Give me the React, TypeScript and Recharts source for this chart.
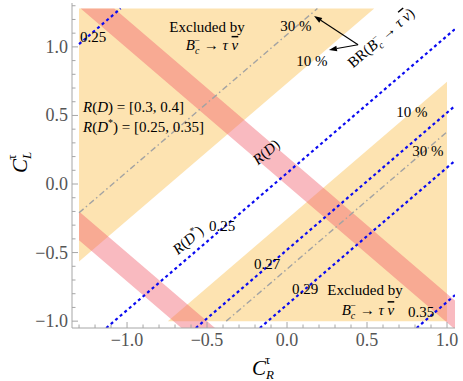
import React from 'react';
import {
  ComposedChart,
  Area,
  Line,
  XAxis,
  YAxis,
  ReferenceDot,
  ReferenceLine
} from 'recharts';

// plot window (C_R on x, C_L on y)
const xDomain: [number, number] = [-1.344, 1.05];
const yDomain: [number, number] = [-1.05, 1.32];
const xTicks = [-1.3, -1.2, -1.1, -1.0, -0.9, -0.8, -0.7, -0.6, -0.5, -0.4, -0.3, -0.2, -0.1, 0.0, 0.1, 0.2, 0.3, 0.4, 0.5, 0.6, 0.7, 0.8, 0.9, 1.0];
const yTicks = [-1.0, -0.9, -0.8, -0.7, -0.6, -0.5, -0.4, -0.3, -0.2, -0.1, 0.0, 0.1, 0.2, 0.3, 0.4, 0.5, 0.6, 0.7, 0.8, 0.9, 1.0, 1.1, 1.2, 1.3];

// scanned ranges: [xmin, xmax, ymin, ymax]
const brBox = [-1.3, 1.0, -1.0, 1.28];
const contourBox = [-1.3, 1.05, -1.05, 1.28];

// BR(Bc -> tau nu) contours, lines C_L - C_R = const
const br10Upper = 0.735;
const br10Lower = -0.255;
const br30Lines = [1.09, -0.62];

// R(D) in [0.3, 0.4]: bands of C_L + C_R
const rdBandLo = [-0.01, -1.71];
const rdBandHi = [0.2, -1.5];

// R(D*) contours, lines C_L - C_R = const
const rdsLevels = ['0.25', '0.25', '0.27', '0.29', '0.35'];
const rdsOffsets = [2.32, 0.08, -0.48, -0.88, -1.86];

const serif = '"Liberation Serif", "Times New Roman", serif';
const frameColor = '#a6a6a6';
const labelColor = '#555';

const isMajor = (v: number) => Math.abs(v * 2 - Math.round(v * 2)) < 1e-6;
const fmt = (v: number) => (v < 0 ? '\u2212' : '') + Math.abs(v).toFixed(1);

// region between y = m x + a and y = m x + b, clipped to box
function bandPoints(m: number, a: number, b: number, box: number[]) {
  const [x0, x1, y0, y1] = box;
  const xs = [x0, x1];
  for (const c of [a, b]) {
    for (const yy of [y0, y1]) {
      const xx = (yy - c) / m;
      if (xx > x0 && xx < x1) xs.push(xx);
    }
  }
  xs.sort((p, q) => p - q);
  const clamp = (v: number) => Math.min(y1, Math.max(y0, v));
  return xs.map(x => ({ x, range: [clamp(m * x + a), clamp(m * x + b)] }));
}

// line y = m x + c clipped to box
function clipLine(m: number, c: number, box: number[]) {
  const [x0, x1, y0, y1] = box;
  const pts: { x: number; y: number }[] = [];
  for (const x of [x0, x1]) {
    const y = m * x + c;
    if (y >= y0 - 1e-9 && y <= y1 + 1e-9) pts.push({ x, y });
  }
  for (const y of [y0, y1]) {
    const x = (y - c) / m;
    if (x >= x0 - 1e-9 && x <= x1 + 1e-9) pts.push({ x, y });
  }
  pts.sort((p, q) => p.x - q.x);
  return [pts[0], pts[pts.length - 1]];
}

const BottomTick = (props: any) => {
  const { x, y, payload } = props;
  const v = payload.value;
  const major = isMajor(v);
  return (
    <g>
      <line x1={x} x2={x} y1={y} y2={y - (major ? 6 : 3.5)} stroke={frameColor} />
      {major && (
        <text x={x} y={y + 18} textAnchor="middle" fontSize={18} fontFamily={serif} fill={labelColor}>
          {fmt(v)}
        </text>
      )}
    </g>
  );
};

const TopTick = (props: any) => {
  const { x, y, payload } = props;
  const major = isMajor(payload.value);
  return <line x1={x} x2={x} y1={y} y2={y + (major ? 6 : 3.5)} stroke={frameColor} />;
};

const LeftTick = (props: any) => {
  const { x, y, payload } = props;
  const v = payload.value;
  const major = isMajor(v);
  return (
    <g>
      <line x1={x} x2={x + (major ? 6 : 3.5)} y1={y} y2={y} stroke={frameColor} />
      {major && (
        <text x={x - 4} y={y + 6} textAnchor="end" fontSize={18} fontFamily={serif} fill={labelColor}>
          {fmt(v)}
        </text>
      )}
    </g>
  );
};

const RightTick = (props: any) => {
  const { x, y, payload } = props;
  const major = isMajor(payload.value);
  return <line x1={x} x2={x - (major ? 6 : 3.5)} y1={y} y2={y} stroke={frameColor} />;
};

const arrowShape = (p: any) => {
  const { x1, y1, x2, y2 } = p;
  const ang = Math.atan2(y2 - y1, x2 - x1);
  const len = 8;
  const half = 2.8;
  const bx = x2 - len * Math.cos(ang);
  const by = y2 - len * Math.sin(ang);
  const px = -Math.sin(ang) * half;
  const py = Math.cos(ang) * half;
  return (
    <g>
      <line x1={x1} y1={y1} x2={bx} y2={by} stroke="#000" strokeWidth={1.1} />
      <polygon points={`${x2},${y2} ${bx + px},${by + py} ${bx - px},${by - py}`} fill="#000" />
    </g>
  );
};

const label = (
  key: string,
  x: number,
  y: number,
  content: React.ReactNode,
  opts: { anchor?: string; angle?: number; size?: number; dy?: number } = {}
) => (
  <ReferenceDot
    key={key}
    x={x}
    y={y}
    r={0}
    ifOverflow="visible"
    shape={(p: any) => (
      <text
        x={p.cx}
        y={p.cy}
        dy={opts.dy || 0}
        textAnchor={opts.anchor || 'middle'}
        fontSize={opts.size || 15}
        fontFamily={serif}
        fill="#000"
        transform={opts.angle ? `rotate(${opts.angle} ${p.cx} ${p.cy})` : undefined}
      >
        {content}
      </text>
    )}
  />
);

const bcDecay = (
  <>
    <tspan fontStyle="italic">B</tspan>
    <tspan fontStyle="italic" fontSize={10} dy={4}>c</tspan>
    <tspan fontSize={10} dx={-5} dy={-10}>{'\u2212'}</tspan>
    <tspan dy={6}>{'  \u2192  '}</tspan>
    <tspan fontStyle="italic">{'\u03c4 '}</tspan>
    <tspan fontStyle="italic" textDecoration="overline">{'\u03bd'}</tspan>
  </>
);

export default function App() {
  const orangeUpper = bandPoints(1, br10Upper, br10Upper + 100, brBox);
  const orangeLower = bandPoints(1, br10Lower - 100, br10Lower, brBox);

  return (
    <div style={{ position: 'absolute', left: 0, top: 0 }}>
      <ComposedChart width={463} height={381} margin={{ top: 3, right: 8, bottom: 23, left: 12 }}>
        <XAxis
          dataKey="x"
          type="number"
          domain={xDomain}
          ticks={xTicks}
          interval={0}
          allowDataOverflow
          height={30}
          tickSize={0}
          tickMargin={0}
          tickLine={false}
          axisLine={{ stroke: frameColor }}
          tick={(p: any) => <BottomTick {...p} />}
        />
        <XAxis
          xAxisId="top"
          orientation="top"
          dataKey="x"
          type="number"
          domain={xDomain}
          ticks={xTicks}
          interval={0}
          allowDataOverflow
          height={0}
          tickSize={0}
          tickMargin={0}
          tickLine={false}
          axisLine={{ stroke: frameColor }}
          tick={(p: any) => <TopTick {...p} />}
        />
        <YAxis
          type="number"
          domain={yDomain}
          ticks={yTicks}
          interval={0}
          allowDataOverflow
          width={60}
          tickSize={0}
          tickMargin={0}
          tickLine={false}
          axisLine={{ stroke: frameColor }}
          tick={(p: any) => <LeftTick {...p} />}
        />
        <YAxis
          yAxisId="right"
          orientation="right"
          type="number"
          domain={yDomain}
          ticks={yTicks}
          interval={0}
          allowDataOverflow
          width={0}
          tickSize={0}
          tickMargin={0}
          tickLine={false}
          axisLine={{ stroke: frameColor }}
          tick={(p: any) => <RightTick {...p} />}
        />

        {/* excluded by BR(Bc -> tau nu) > 10% */}
        <Area data={orangeUpper} dataKey="range" type="linear" stroke="none" fill="#fde3b1" fillOpacity={1} dot={false} activeDot={false} isAnimationActive={false} />
        <Area data={orangeLower} dataKey="range" type="linear" stroke="none" fill="#fde3b1" fillOpacity={1} dot={false} activeDot={false} isAnimationActive={false} />

        {/* BR = 30% */}
        {br30Lines.map((c, i) => (
          <Line key={'br30' + i} data={clipLine(1, c, brBox)} dataKey="y" type="linear" stroke="#a3a3a3" strokeWidth={1.4} strokeDasharray="6 3 1.5 3" dot={false} activeDot={false} isAnimationActive={false} />
        ))}

        {/* R(D) bands */}
        {rdBandLo.map((lo, i) => (
          <Area key={'rd' + i} data={bandPoints(-1, lo, rdBandHi[i], contourBox)} dataKey="range" type="linear" stroke="none" fill="#f05a6a" fillOpacity={0.42} dot={false} activeDot={false} isAnimationActive={false} />
        ))}

        {/* R(D*) contours */}
        {rdsOffsets.map((c, i) => (
          <Line key={'rds' + i} name={rdsLevels[i]} data={clipLine(1, c, contourBox)} dataKey="y" type="linear" stroke="#0a0af0" strokeWidth={2.2} strokeDasharray="3 3" dot={false} activeDot={false} isAnimationActive={false} />
        ))}

        <ReferenceLine segment={[{ x: 0.444, y: 1.015 }, { x: 0.169, y: 1.226 }]} shape={arrowShape} ifOverflow="visible" />
        <ReferenceLine segment={[{ x: 0.444, y: 1.015 }, { x: 0.262, y: 0.978 }]} shape={arrowShape} ifOverflow="visible" />

        {label('ex1', -0.5, 1.109, 'Excluded by')}
        {label('bc1', -0.469, 0.978, bcDecay)}
        {label('p30a', 0.056, 1.117, '30 %')}
        {label('p10a', 0.156, 0.861, '10 %')}
        {label('br', 0.5875, 1.066, (
          <>
            <tspan>BR(</tspan>
            {bcDecay}
            <tspan>)</tspan>
          </>
        ), { angle: -40.6, dy: 5 })}
        {label('p10b', 0.781, 0.489, '10 %')}
        {label('p30b', 0.881, 0.204, '30 %')}
        {label('rdl', -0.131, 0.234, (
          <>
            <tspan fontStyle="italic">R</tspan>(<tspan fontStyle="italic">D</tspan>)
          </>
        ), { angle: -40.6, dy: 5 })}
        {label('rdsl', -0.619, -0.409, (
          <>
            <tspan fontStyle="italic">R</tspan>(<tspan fontStyle="italic">D</tspan>
            <tspan fontSize={10} dy={-6}>*</tspan>
            <tspan dy={6}>)</tspan>
          </>
        ), { angle: -40.6, dy: 5 })}
        {label('l0', -1.2125, 1.036, rdsLevels[0])}
        {label('l1', -0.406, -0.343, rdsLevels[1])}
        {label('l2', -0.125, -0.62, rdsLevels[2])}
        {label('l3', 0.1125, -0.803, rdsLevels[3])}
        {label('l4', 0.8375, -0.971, rdsLevels[4])}
        {label('ex2', 0.4875, -0.81, 'Excluded by')}
        {label('bc2', 0.506, -0.956, bcDecay)}
        {label('rdr', -1.275, 0.526, (
          <>
            <tspan fontStyle="italic">R</tspan>(<tspan fontStyle="italic">D</tspan>) = [0.3, 0.4]
          </>
        ), { anchor: 'start' })}
        {label('rdsr', -1.275, 0.38, (
          <>
            <tspan fontStyle="italic">R</tspan>(<tspan fontStyle="italic">D</tspan>
            <tspan fontSize={10} dy={-6}>*</tspan>
            <tspan dy={6}>) = [0.25, 0.35]</tspan>
          </>
        ), { anchor: 'start' })}

        {/* axis titles */}
        {label('xt', -0.219, -1.394, (
          <>
            <tspan fontStyle="italic">C</tspan>
            <tspan fontStyle="italic" fontSize={13} dy={4}>R</tspan>
            <tspan fontSize={13} dx={-9} dy={-15}>{'\u03c4'}</tspan>
          </>
        ), { anchor: 'start', size: 21 })}
        {label('yt', -1.625, 0.08, (
          <>
            <tspan fontStyle="italic">C</tspan>
            <tspan fontStyle="italic" fontSize={13} dy={4}>L</tspan>
            <tspan fontSize={13} dx={-8} dy={-15}>{'\u03c4'}</tspan>
          </>
        ), { anchor: 'start', size: 21, angle: -90 })}
      </ComposedChart>
    </div>
  );
}
